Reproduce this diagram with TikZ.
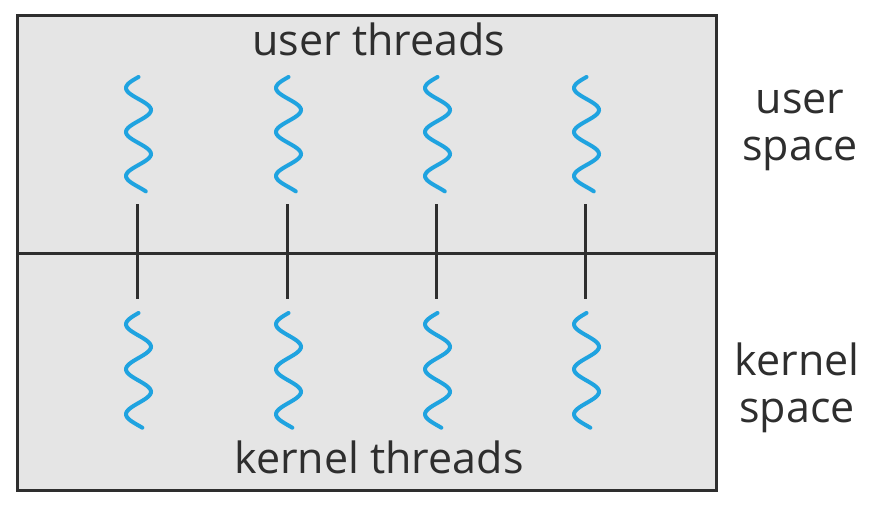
\documentclass[tikz,border=0pt]{standalone}
\usepackage{fontspec}
\setmainfont{Open Sans}
\usepackage{tikz}
\usetikzlibrary{positioning}
\usepackage{xcolor}
\definecolor{PanelGray}{HTML}{E5E5E5}
\definecolor{EdgeDark}{HTML}{2E2E2E}
\definecolor{ThreadBlue}{HTML}{1FA3E0}

\begin{document}
\begin{tikzpicture}[
  x=1pt, y=-1pt,
  panel/.style={draw=EdgeDark, line width=3pt, fill=PanelGray},
  thread/.style={draw=ThreadBlue, line width=4pt, line cap=round},
  link/.style={draw=EdgeDark, line width=3pt},
  lbl/.style={font=\fontsize{43}{47}\selectfont, text=EdgeDark, inner sep=0pt},
  sidelbl/.style={lbl, align=center}
]
  \useasboundingbox (0,0) rectangle (889,514);
  \draw[panel] (17,15) rectangle (716,490);
  \coordinate (wl) at (17,253);
  \coordinate (wr) at (716,253);
  \draw[link] (wl) -- (wr);

  \node[lbl, anchor=base] (ut) at (379,55) {user threads};
  \node[lbl, anchor=base] (kt) at (379,473) {kernel threads};
  \node[sidelbl, anchor=base] (us) at (800,160) {user\\space};
  \node[sidelbl, anchor=base] (ks) at (797,422) {kernel\\space};

  % one user thread mapped to one kernel thread
  \foreach \n/\cx in {1/137, 2/287, 3/436, 4/585} {
    \coordinate (u\n) at (\cx,204);
    \coordinate (k\n) at (\cx,299);
    \draw[link] (u\n) -- (k\n);
    \draw[thread] plot[domain=0:2.6, samples=80, smooth]
      ({\cx+1.5-12.5*sin(360*\x)}, {77+44*\x});
    \draw[thread] plot[domain=0:2.55, samples=80, smooth]
      ({\cx+1.5-12.5*sin(360*\x)}, {313+45*\x});
  }
\end{tikzpicture}
\end{document}
